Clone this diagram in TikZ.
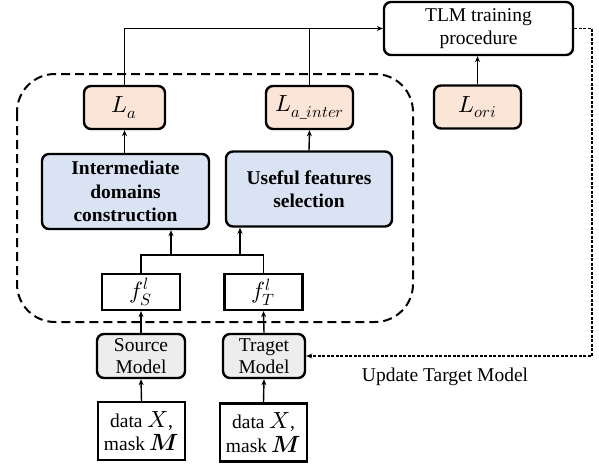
\documentclass[tikz,border=0pt]{standalone}
\usepackage{fontspec}
\usepackage{unicode-math}
\setmainfont{Liberation Serif}
\setmathfont{Latin Modern Math}[Scale=1.2]
\usetikzlibrary{arrows.meta}

\definecolor{lossfill}{HTML}{FBE5D6}
\definecolor{modfill}{HTML}{DAE3F3}
\definecolor{netfill}{HTML}{EDEDED}
\newcommand{\diagfont}{\fontsize{19.5}{23.5}\selectfont}

\tikzset{
  box/.style={draw, line width=2.4pt, rounded corners=7pt},
  loss/.style={box, fill=lossfill, minimum width=81pt, minimum height=43pt},
  module/.style={box, fill=modfill, font=\diagfont\bfseries, minimum width=167pt, minimum height=75pt},
  net/.style={box, fill=netfill, minimum width=88pt, minimum height=44pt, font=\fontsize{19.5}{22.5}\selectfont},
  databox/.style={draw, line width=2.4pt, minimum width=87pt, minimum height=58pt},
  featbox/.style={draw, line width=2.2pt, minimum width=78pt, minimum height=36pt},
  flow/.style={->, line width=1.4pt}
}

\begin{document}
\begin{tikzpicture}[x=1pt, y=-1pt, >={Stealth[length=6pt,width=5pt]},
    every node/.style={font=\diagfont, inner sep=0pt, align=center}]
  \useasboundingbox (0,0) rectangle (599,464);

  % Frame round the alignment part
  \draw[line width=2pt, dash pattern=on 9pt off 5pt, rounded corners=38pt] (17,74) rectangle (413,322);

  % Training and losses
  \node[box, minimum width=189pt, minimum height=53pt] (tlm) at (478.5,28.5) {TLM training\\procedure};
  \node[loss] (la) at (124.5,107.5) {$L_a$};
  \node[loss, minimum width=87pt] (lai) at (309.5,107.5) {$L_{a\_inter}$};
  \node[loss, minimum width=87pt] (lori) at (477.5,107) {$L_{ori}$};

  % Modules
  \node[module] (idc) at (125.5,191.5) {Intermediate\\domains\\construction};
  \node[module, minimum width=166pt] (ufs) at (309,189) {Useful features\\selection};

  % Features
  \node[featbox] (fs) at (141,292) {$f_S^l$};
  \node[featbox] (ft) at (263.5,292) {$f_T^l$};

  % Models and inputs
  \node[net] (src) at (141,356) {Source\\Model};
  \node[net, minimum width=82pt] (tgt) at (264,356) {Traget\\Model};
  \node[databox] (dxs) at (141.5,431) {data $X$,\\mask $\symbfit{M}$};
  \node[databox] (dxt) at (263.5,432.5) {data $X$,\\mask $\symbfit{M}$};

  % Connectors
  \draw[flow] (la.north) |- (tlm.west);
  \draw[line width=1.4pt] (lai.north) -- (lai.north |- tlm.west);
  \draw[flow] (lori.north) -- (lori.north |- tlm.south);
  \draw[flow] (la.south |- idc.north) -- (la.south);
  \draw[flow] (ufs.north) -- (lai.south);

  \coordinate (fja) at (171,255);
  \coordinate (fjb) at (240,255);
  \draw[line width=1.4pt] (fs.north) -- (fs.north |- fja) -- (ft.north |- fja) -- (ft.north);
  \draw[flow] (fja) -- (fja |- idc.south);
  \draw[flow] (fjb) -- (fjb |- ufs.south);

  \draw[flow] (dxs.north) -- (src.south);
  \draw[flow] (dxt.north) -- (tgt.south);
  \draw[flow] (src.north) -- (fs.south);
  \draw[flow] (tgt.north) -- (ft.south);

  % Update of the target model
  \coordinate (upd) at (592,28.5);
  \draw[flow, line width=1.2pt, dash pattern=on 3pt off 1.5pt] (tlm.east) -- (upd) |- (tgt.east);
  \node (updlabel) at (445,377) {Update Target Model};
\end{tikzpicture}
\end{document}
